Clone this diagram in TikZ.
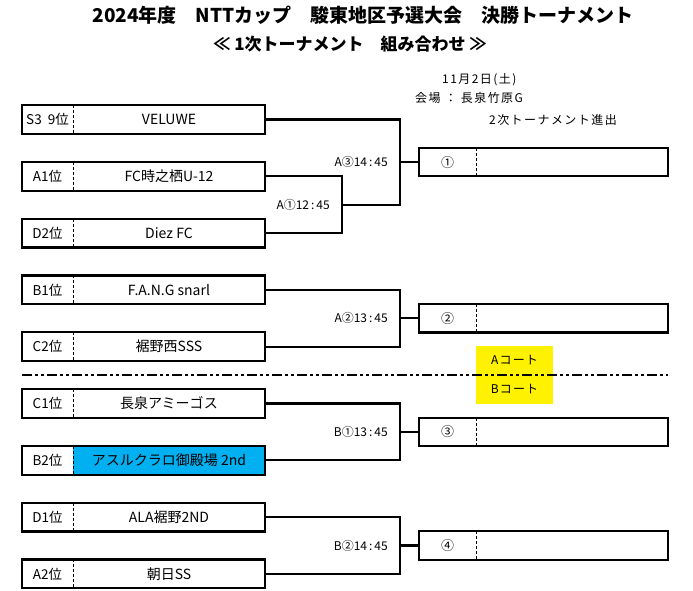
\documentclass[tikz,border=0pt]{standalone}
\usepackage{fontspec}
\setmainfont{Noto Sans CJK JP}
\usetikzlibrary{calc}
\definecolor{teamblue}{HTML}{00B0F0}
\newcommand\fsz[1]{\fontsize{#1}{#1}\selectfont}
\tikzset{
  lab/.style={minimum width=51pt, minimum height=28.5pt, inner sep=0pt, font=\fsz{13.5}},
  team/.style={minimum width=192pt, minimum height=28.5pt, inner sep=0pt, font=\fsz{14}},
  wlab/.style={minimum width=57pt, minimum height=28pt, inner sep=0pt, font=\fsz{13}},
  wblank/.style={minimum width=192pt, minimum height=28pt, inner sep=0pt},
  frame/.style={line width=2.2pt},
  divider/.style={line width=1.4pt, dash pattern=on 3pt off 2pt},
  bracket/.style={line width=2.2pt},
  timelbl/.style={anchor=east, inner sep=0pt, font=\fsz{12}},
  courtline/.style={line width=2pt, dash pattern=on 10pt off 3pt on 3pt off 3pt on 3pt off 3pt},
  hdr/.style={inner sep=0pt, font=\fsz{12}\addfontfeatures{LetterSpace=12}},
}
\newcommand\teamrow[5]{%
  \node[team, fill=#5] (t#1) at (169,#2) {#4};
  \node[lab] (l#1) at (47.5,#2) {#3};
  \draw[frame] (l#1.north west) rectangle (t#1.south east);
  \draw[divider] (l#1.north east) -- (l#1.south east);
}
\newcommand\winrow[3]{%
  \node[wlab] (w#1) at (447.5,#2) {#3};
  \node[wblank] (b#1) at (572,#2) {};
  \draw[frame] (w#1.north west) rectangle (b#1.south east);
  \draw[divider] (w#1.north east) -- (w#1.south east);
}
\begin{document}
\begin{tikzpicture}[x=1pt,y=-1pt]
\useasboundingbox (0,0) rectangle (693,591);

% titles
\node[inner sep=0pt, font=\fsz{19}\bfseries] (title) at (363,15) {2024年度　NTTカップ　駿東地区予選大会　決勝トーナメント};
\node[inner sep=0pt, font=\fsz{17}\bfseries] (subtitle) at (350,44) {≪\ 1次トーナメント　組み合わせ\ ≫};
\node[hdr, anchor=west] (date) at (442,80) {11月2日(土)};
\node[hdr, anchor=west] (venue) at (415,98) {会場 ： 長泉竹原G};
\node[hdr] (adv) at (553,119.5) {2次トーナメント進出};

% team rows
\teamrow{1}{119.5}{S3\ \ 9位}{VELUWE}{white}
\teamrow{2}{176.3}{A1位}{FC時之栖U-12}{white}
\teamrow{3}{233.1}{D2位}{Diez FC}{white}
\teamrow{4}{289.9}{B1位}{F.A.N.G snarl}{white}
\teamrow{5}{346.7}{C2位}{裾野西SSS}{white}
\teamrow{6}{403.5}{C1位}{長泉アミーゴス}{white}
\teamrow{7}{460.3}{B2位}{アスルクラロ御殿場 2nd}{teamblue}
\teamrow{8}{517.1}{D1位}{ALA裾野2ND}{white}
\teamrow{9}{573.9}{A2位}{朝日SS}{white}

% junctions
\coordinate (jA1) at (342,204.7);
\coordinate (jA3) at (400,162.1);
\coordinate (jA2) at (400,318.3);
\coordinate (jB1) at (400,431.9);
\coordinate (jB2) at (400,545.5);

% winner boxes
\winrow{1}{162.1}{①}
\winrow{2}{318.3}{②}
\winrow{3}{431.9}{③}
\winrow{4}{545.5}{④}

% brackets
\draw[bracket] (t2.east) -| (jA1) |- (t3.east);
\draw[bracket] (t1.east) -| (jA3) |- (jA1);
\draw[bracket] (jA3) -- (w1.west);
\draw[bracket] (t4.east) -| (jA2) |- (t5.east);
\draw[bracket] (jA2) -- (w2.west);
\draw[bracket] (t6.east) -| (jB1) |- (t7.east);
\draw[bracket] (jB1) -- (w3.west);
\draw[bracket] (t8.east) -| (jB2) |- (t9.east);
\draw[bracket] (jB2) -- (w4.west);

% time labels
\node[timelbl] (tA1) at ($(jA1)+(-12,0)$) {A①12\,:\,45};
\node[timelbl] (tA3) at ($(jA3)+(-12,0)$) {A③14\,:\,45};
\node[timelbl] (tA2) at ($(jA2)+(-12,0)$) {A②13\,:\,45};
\node[timelbl] (tB1) at ($(jB1)+(-12,0)$) {B①13\,:\,45};
\node[timelbl] (tB2) at ($(jB2)+(-12,0)$) {B②14\,:\,45};

% court separator
\node[fill=yellow, minimum width=77pt, minimum height=58pt, inner sep=0pt] (court) at (514.5,375) {};
\node[inner sep=0pt, font=\fsz{12}\addfontfeatures{LetterSpace=10}] (courtA) at (514.5,360.5) {Aコート};
\node[inner sep=0pt, font=\fsz{12}\addfontfeatures{LetterSpace=10}] (courtB) at (514.5,389) {Bコート};
\coordinate (sepL) at (22,375.3);
\coordinate (sepR) at (668,375.3);
\draw[courtline] (sepL) -- (sepR);
\end{tikzpicture}
\end{document}
